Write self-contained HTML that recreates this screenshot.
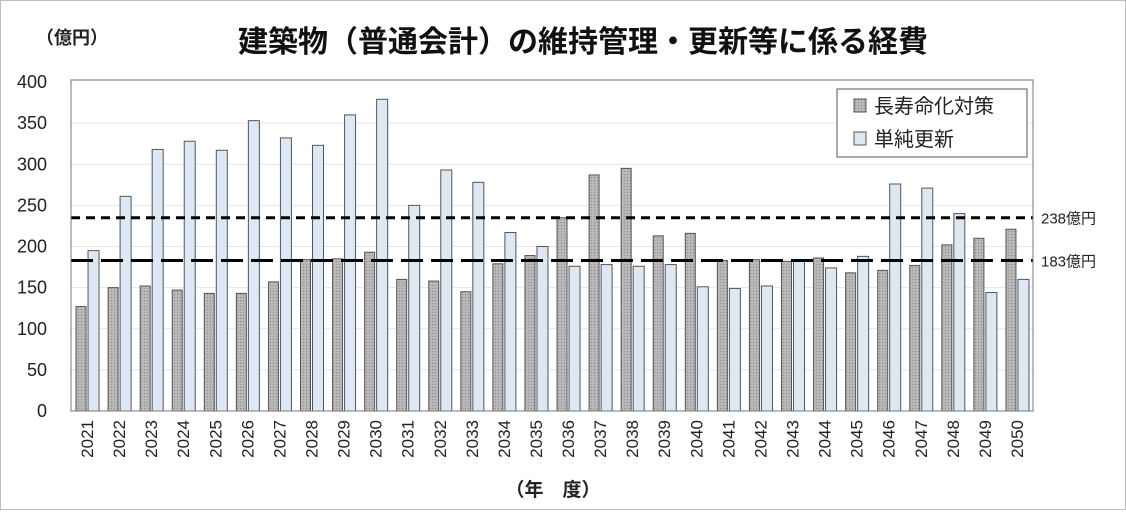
<!DOCTYPE html>
<html><head><meta charset="utf-8"><style>
html,body{margin:0;padding:0;background:#fff}
body{width:1126px;height:510px;overflow:hidden;font-family:"Liberation Sans","Noto Sans CJK JP",sans-serif}
</style></head><body>
<svg id="chart" width="1126" height="510" xmlns="http://www.w3.org/2000/svg">
<defs>
<pattern id="dots" width="3" height="3" patternUnits="userSpaceOnUse">
<rect width="3" height="3" fill="#b8b8b8"/><rect width="1" height="1" fill="#8a8a8a"/>
</pattern>
</defs>
<rect x="0.5" y="0.5" width="1125" height="509" fill="#fff" stroke="#bdbdbd"/>
<text x="36" y="44" font-size="18" font-weight="bold" fill="#222">（億円）</text>
<text x="583" y="52" font-size="30" font-weight="bold" text-anchor="middle" fill="#111">建築物（普通会計）の維持管理・更新等に係る経費</text>
<g id="grid"></g><g id="bars"></g><g id="refs"></g><g id="axes"></g>
<text x="553" y="496" font-size="19" font-weight="bold" text-anchor="middle" fill="#222">（年　度）</text>
<g>
<rect x="837" y="89" width="190" height="68" fill="#fff" stroke="#555"/>
<rect x="854" y="99" width="12" height="13" fill="url(#dots)" stroke="#555"/>
<text x="874" y="113" font-size="20" fill="#222">長寿命化対策</text>
<rect x="854" y="132" width="12" height="13" fill="#dde8f5" stroke="#555"/>
<text x="874" y="146" font-size="20" fill="#222">単純更新</text>
</g>
</svg>
<script>
const years=[];for(let y=2021;y<=2050;y++)years.push(String(y));
const longevity=[127,150,152,147,143,143,157,184,185,193,160,158,145,179,189,235,287,295,213,216,183,184,182,186,168,171,177,202,210,221];
const renewal=[195,261,318,328,317,353,332,323,360,379,250,293,278,217,200,176,178,176,178,151,149,152,182,174,188,276,271,240,144,160];
const yTicks=[0,50,100,150,200,250,300,350,400];
const refValues=[235,183];
const refLabels=["238億円","183億円"];
const NS="http://www.w3.org/2000/svg";
const L=71,R=1033,T=80,B=411,yMax=400,yTop=82;
const ys=v=>B-(B-yTop)*v/yMax;
const cw=(R-L)/years.length;
const xc=i=>L+cw*(i+0.5);
function mk(tag,attrs,parent,text){const e=document.createElementNS(NS,tag);for(const k in attrs)e.setAttribute(k,attrs[k]);if(text!=null)e.textContent=text;document.getElementById(parent).appendChild(e);return e;}
yTicks.forEach(t=>{
  if(t>0&&t<400){const g=mk('line',{x1:L,x2:R,y1:ys(t),y2:ys(t),stroke:'#e6e6e6','stroke-width':1},'grid');
  
  }
  const tl=mk('text',{x:47,y:ys(t)+6,'font-size':18,'text-anchor':'end',fill:'#222'},'axes',String(t));
  
  
});
const frame=mk('rect',{x:L,y:T,width:R-L,height:B-T,fill:'none',stroke:'#777','stroke-width':1},'axes');


years.forEach((yr,i)=>{
  const c=xc(i);
  const a=mk('rect',{x:c-11,y:ys(longevity[i]),width:10,height:B-ys(longevity[i]),fill:'url(#dots)',stroke:'#555','stroke-width':1},'bars');
  
  
  const b=mk('rect',{x:c+1,y:ys(renewal[i]),width:11,height:B-ys(renewal[i]),fill:'#dde8f5',stroke:'#555','stroke-width':1},'bars');
  
  
  const tx=c+6,ty=420;
  const lab=mk('text',{x:tx,y:ty,'font-size':17,'text-anchor':'end',fill:'#222',transform:`rotate(-90 ${tx} ${ty})`},'axes',yr);
  
  
});
refValues.forEach((v,i)=>{
  const ln=mk('line',{x1:L,x2:R,y1:ys(v),y2:ys(v),stroke:'#000','stroke-width':3,'stroke-dasharray':i==0?'9,6':'22,8'},'refs');
  
  
  const t=mk('text',{x:1041,y:ys(v)+6,'font-size':15,fill:'#222'},'refs',refLabels[i]);
  
  
});
</script>
</body></html>
